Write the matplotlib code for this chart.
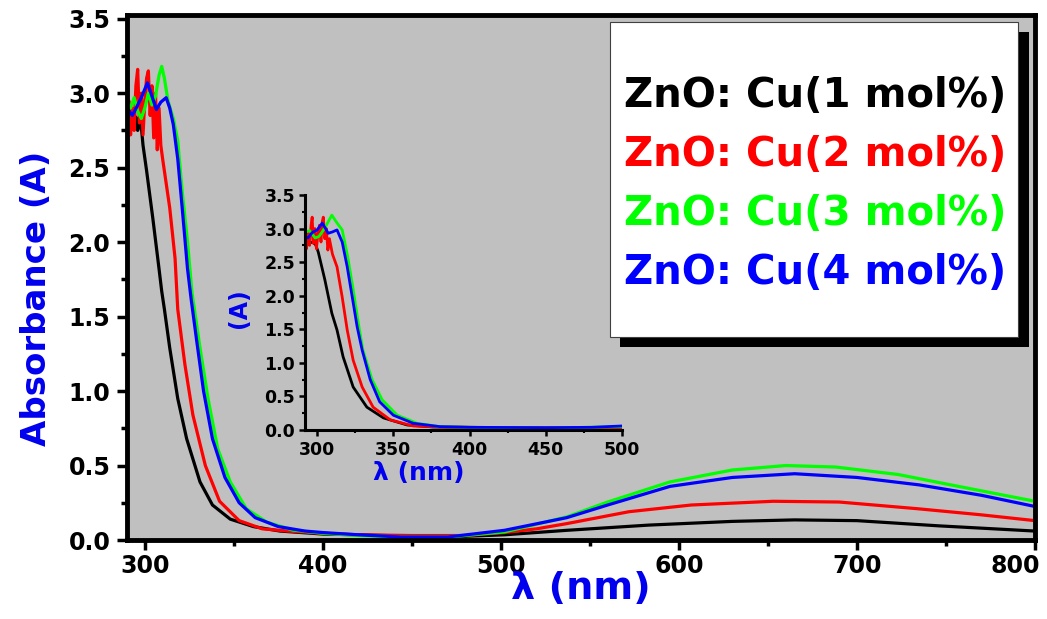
import numpy as np
import matplotlib
matplotlib.use("Agg")
import matplotlib.pyplot as plt
from matplotlib.patches import Rectangle
from matplotlib.ticker import MultipleLocator, FormatStrFormatter

plt.rcParams['font.family'] = ['DejaVu Sans']
plt.rcParams['font.weight'] = 'bold'

# ---- main panel data (nm, absorbance) ----
wl_1 = [290, 291, 292, 293, 294, 295, 296, 297, 298, 299, 301, 304.5, 308, 309.5,
        311, 314, 318.5, 323.5, 331, 338, 348, 361, 376, 400, 420, 450, 480, 502,
        537, 583, 630, 665, 700, 746, 800]
abs_1 = [2.73, 2.80, 2.76, 2.82, 2.78, 2.84, 2.75, 2.80, 2.78, 2.65, 2.48, 2.16, 1.82, 1.67,
         1.55, 1.29, 0.95, 0.68, 0.39, 0.235, 0.14, 0.09, 0.06, 0.04, 0.035, 0.025, 0.025, 0.035,
         0.065, 0.10, 0.125, 0.135, 0.13, 0.095, 0.06]

wl_2 = [290, 291, 292, 293, 294, 295, 296, 297, 298, 299, 300, 301, 302, 303, 304, 305,
        306, 307, 308, 309, 310, 314, 317, 318.5, 322.5, 327, 334, 342, 353, 366, 380,
        400, 420, 450, 480, 502, 520, 537, 572, 607, 653, 690, 734, 769, 800]
abs_2 = [2.78, 2.95, 2.72, 2.90, 2.75, 3.05, 3.16, 2.80, 3.00, 2.72, 2.95, 3.10, 3.15, 2.85, 3.05, 2.70,
         3.00, 2.62, 2.90, 2.65, 2.56, 2.23, 1.89, 1.55, 1.18, 0.84, 0.50, 0.26, 0.13, 0.075, 0.06,
         0.045, 0.035, 0.03, 0.03, 0.05, 0.075, 0.11, 0.19, 0.235, 0.26, 0.255, 0.21, 0.17, 0.13]

wl_3 = [290, 292, 294, 296, 298, 300, 302, 304, 306, 308, 309.5, 311, 313, 316, 318.5,
        321, 324, 326.5, 331, 335.5, 341, 348, 357, 368.5, 383, 400, 420, 444, 470, 502,
        537, 560, 595, 630, 660, 688, 723, 757, 800]
abs_3 = [2.93, 2.90, 2.97, 2.88, 2.83, 2.90, 3.00, 2.92, 2.98, 3.12, 3.18, 3.10, 2.95, 2.83, 2.68,
         2.34, 2.00, 1.66, 1.29, 0.95, 0.61, 0.39, 0.21, 0.12, 0.067, 0.045, 0.03, 0.02, 0.02, 0.054,
         0.155, 0.255, 0.39, 0.47, 0.50, 0.49, 0.44, 0.36, 0.26]

wl_4 = [290, 293, 296, 298, 301.5, 304, 306.5, 309, 312, 314, 316, 318.5, 321, 324, 326,
        329, 333, 338, 345, 353, 362, 375, 390, 400, 420, 444, 470, 502, 537, 560, 595,
        630, 665, 700, 735, 770, 800]
abs_4 = [2.90, 2.85, 2.92, 2.97, 3.07, 2.98, 2.89, 2.94, 2.97, 2.90, 2.79, 2.56, 2.23, 1.82, 1.62,
         1.35, 1.00, 0.68, 0.42, 0.25, 0.15, 0.09, 0.06, 0.05, 0.035, 0.02, 0.02, 0.065, 0.15, 0.235, 0.36,
         0.42, 0.445, 0.42, 0.37, 0.30, 0.225]

# ---- inset data (300-500 nm zoom, read separately) ----
wl_1_in = [292, 293.4, 295, 297.4, 299, 300.7, 305, 309.6, 313, 317, 323.6, 332.6, 343.5,
           359, 376, 400, 450, 500]
abs_1_in = [2.72, 2.76, 2.80, 2.79, 2.76, 2.65, 2.24, 1.74, 1.49, 1.09, 0.64, 0.34, 0.18,
            0.075, 0.045, 0.04, 0.03, 0.04]

wl_2_in = [292, 293, 294, 295, 296, 296.7, 297.5, 298.5, 299.5, 300.5, 301.5, 302.5, 303.3,
           304, 305, 306, 307, 308, 310, 313, 316.4, 319.7, 323.6, 329.5, 336.7, 348, 363,
           380, 400, 450, 500]
abs_2_in = [2.80, 2.70, 2.95, 2.75, 3.05, 3.17, 2.78, 3.00, 2.70, 2.92, 3.05, 2.80, 3.10,
            3.17, 2.85, 3.00, 2.68, 2.85, 2.62, 2.43, 1.98, 1.49, 1.04, 0.64, 0.34, 0.15, 0.06,
            0.045, 0.04, 0.035, 0.04]

wl_3_in = [292, 295, 298.7, 301, 303, 306, 309.6, 312.5, 316.4, 320, 323.6, 327, 330, 336,
           342.6, 352.5, 365.6, 380.6, 400, 450, 500]
abs_3_in = [2.94, 2.97, 2.86, 2.88, 2.94, 3.05, 3.20, 3.10, 2.98, 2.58, 2.09, 1.59, 1.19, 0.75,
            0.45, 0.22, 0.10, 0.05, 0.04, 0.03, 0.05]

wl_4_in = [292, 294, 296.7, 300, 303.3, 305.5, 307.2, 310, 313, 316.4, 319.7, 323, 326.2,
           329.5, 334.8, 341, 350, 363, 380.6, 400, 450, 480, 500]
abs_4_in = [2.88, 2.86, 2.94, 2.98, 3.08, 3.00, 2.93, 2.95, 2.98, 2.80, 2.43, 1.98, 1.54,
            1.19, 0.75, 0.42, 0.22, 0.10, 0.05, 0.04, 0.035, 0.04, 0.06]

labels = ['ZnO: Cu(1 mol%)', 'ZnO: Cu(2 mol%)', 'ZnO: Cu(3 mol%)', 'ZnO: Cu(4 mol%)']
colors = ['#000000', '#ff0000', '#00ff00', '#0000ff']
x_ticks = [300, 400, 500, 600, 700, 800]
series = [(wl_1, abs_1), (wl_2, abs_2), (wl_3, abs_3), (wl_4, abs_4)]
series_in = [(wl_1_in, abs_1_in), (wl_2_in, abs_2_in), (wl_3_in, abs_3_in), (wl_4_in, abs_4_in)]

W, H = 1047, 619
fig = plt.figure(figsize=(W/100, H/100), dpi=100)

# main axes
ax = fig.add_axes([127/W, (H-540)/H, 908/W, 525/H])
ax.set_facecolor('#c0c0c0')
for (x, y), c in zip(series, colors):
    ax.plot(x, y, color=c, lw=2.3)
ax.set_xlim(290, 800)
ax.set_ylim(0, 3.525)
# the last label is drawn separately, shifted left of its tick as in the original
ax.set_xticks(x_ticks, [str(t) for t in x_ticks[:-1]] + [''])
ax.xaxis.set_minor_locator(MultipleLocator(50))
ax.yaxis.set_major_locator(MultipleLocator(0.5))
ax.yaxis.set_minor_locator(MultipleLocator(0.25))
ax.yaxis.set_major_formatter(FormatStrFormatter('%.1f'))
for s in ax.spines.values():
    s.set_linewidth(3.5)
ax.tick_params(which='major', direction='out', length=7, width=2.5, labelsize=17)
ax.tick_params(which='minor', direction='out', length=4, width=2.5)
ax.tick_params(axis='x', which='both', pad=3)
ax.tick_params(axis='y', which='both', pad=5)
ax.annotate(str(x_ticks[-1]), xy=(x_ticks[-1], 0), xycoords=('data', 'axes fraction'),
            xytext=(-14, -9.8), textcoords='offset points', ha='center', va='top',
            fontsize=17, fontweight='bold', annotation_clip=False)
ax.set_xlabel('λ (nm)', color='#0000ee', fontsize=27.5, fontweight='bold')
ax.set_ylabel('Absorbance (A)', color='#0000ee', fontsize=24.5, fontweight='bold')
ax.xaxis.set_label_coords(0.5, -0.06)
ax.yaxis.set_label_coords(-0.082, 0.46)

# inset
ins = fig.add_axes([305/W, (H-430)/H, 317/W, 235/H])
ins.patch.set_alpha(0)
for (x, y), c in zip(series_in, colors):
    ins.plot(x, y, color=c, lw=2)
ins.set_xlim(292, 500)
ins.set_ylim(0, 3.5)
ins.xaxis.set_major_locator(MultipleLocator(50))
ins.xaxis.set_minor_locator(MultipleLocator(25))
ins.yaxis.set_major_locator(MultipleLocator(0.5))
ins.yaxis.set_minor_locator(MultipleLocator(0.25))
ins.yaxis.set_major_formatter(FormatStrFormatter('%.1f'))
ins.spines['top'].set_visible(False)
ins.spines['right'].set_visible(False)
ins.spines['left'].set_linewidth(2.2)
ins.spines['bottom'].set_linewidth(2.2)
ins.tick_params(which='major', direction='out', length=4, width=1.8, labelsize=12.5)
ins.tick_params(which='minor', direction='out', length=2.5, width=1.5)
ins.tick_params(axis='x', which='both', pad=4)
ins.tick_params(axis='y', which='both', pad=3)
ins.set_xlabel('λ (nm)', color='#0000ee', fontsize=18, fontweight='bold')
ins.set_ylabel('(A)', color='#0000ee', fontsize=17, fontweight='bold')
ins.xaxis.set_label_coords(0.36, -0.13)
ins.yaxis.set_label_coords(-0.17, 0.52)

# legend box with black drop shadow
fig.add_artist(Rectangle((620/W, (H-347)/H), 409/W, 315/H, transform=fig.transFigure,
                         facecolor='black', edgecolor='none', zorder=10))
fig.add_artist(Rectangle((610/W, (H-337)/H), 408/W, 315/H, transform=fig.transFigure,
                         facecolor='white', edgecolor='#404040', lw=0.8, zorder=11))
for i, (lab, c) in enumerate(zip(labels, colors)):
    fig.text(624/W, (H-(106.6 + 59*i))/H, lab, color=c, fontsize=29,
             fontweight='bold', va='baseline', ha='left', zorder=12)

fig.savefig('out.png', dpi=100)
